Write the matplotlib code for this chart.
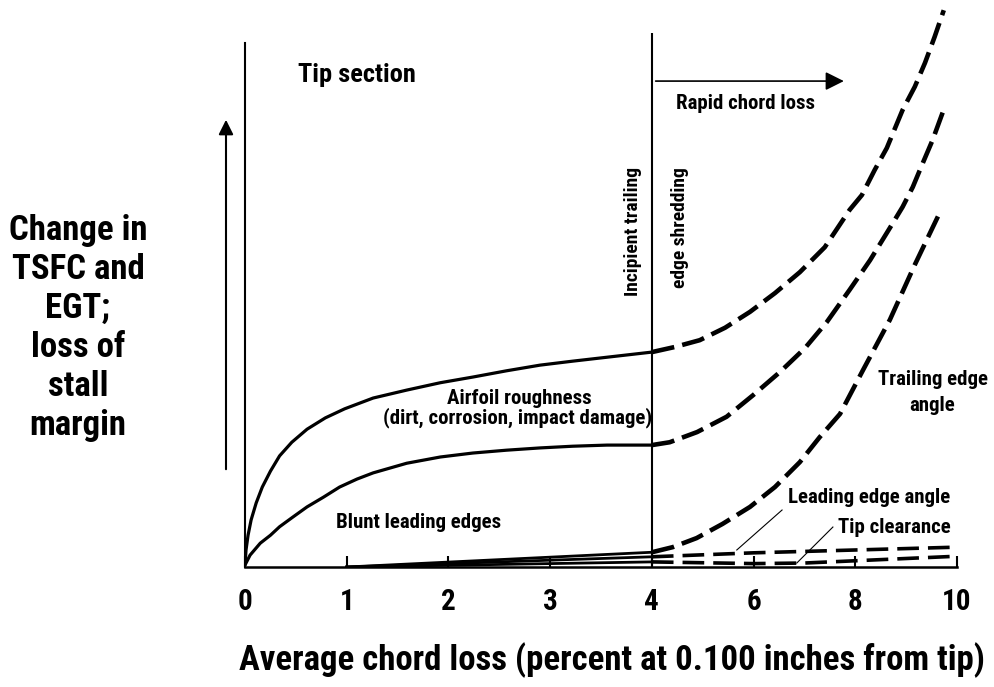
import numpy as np
import matplotlib
matplotlib.use('Agg')
import matplotlib.pyplot as plt

FONT = ['Roboto Condensed', 'Archivo Narrow', 'DejaVu Sans']
plt.rcParams['font.family'] = FONT
plt.rcParams['font.weight'] = 'bold'

# curves (x = average chord loss %, y = relative change)
rough_x = [0, 0.01, 0.03, 0.06, 0.11, 0.17, 0.25, 0.34, 0.46, 0.61, 0.79, 0.98,
           1.26, 1.59, 1.92, 2.24, 2.57, 2.90, 3.22, 3.56, 4.0]
rough_y = [0.35, 3.0, 5.6, 8.3, 11.3, 14.1, 16.9, 19.6, 22.0, 24.3, 26.3, 27.9,
           29.8, 31.2, 32.5, 33.5, 34.6, 35.6, 36.3, 37.0, 37.9]

blunt_x = [0, 0.05, 0.15, 0.25, 0.34, 0.47, 0.61, 0.77, 0.93, 1.10, 1.26,
           1.59, 1.92, 2.24, 2.57, 2.90, 3.22, 3.56, 4.0]
blunt_y = [0.35, 2.1, 4.2, 5.6, 7.1, 8.8, 10.6, 12.3, 14.1, 15.5, 16.6,
           18.3, 19.4, 20.1, 20.6, 21.0, 21.3, 21.5, 21.5]

rough_ext_x = [4, 4.45, 4.94, 5.44, 5.93, 6.42, 6.91, 7.40, 7.89, 8.13, 8.38,
               8.62, 8.93, 9.17, 9.37, 9.56, 9.74]
rough_ext_y = [37.9, 38.8, 40.0, 42.2, 45.0, 48.3, 52.0, 56.4, 63.0, 65.6, 70.0,
               73.9, 80.6, 84.7, 88.9, 93.5, 98.2]

blunt_ext_x = [4, 4.35, 4.89, 5.47, 5.99, 6.52, 7.01, 7.44, 7.89, 8.29, 8.68,
               8.93, 9.13, 9.33, 9.52, 9.72]
blunt_ext_y = [21.5, 22.0, 23.8, 26.5, 30.3, 34.4, 38.6, 43.2, 48.9, 54.1, 59.8,
               63.5, 67.0, 71.3, 75.3, 80.2]

te_x = [1, 4.0, 4.41, 4.88, 5.39, 5.93, 6.42, 6.91, 7.30, 7.70, 8.15, 8.68, 9.17, 9.64]
te_y = [0, 2.6, 3.5, 5.1, 7.6, 10.6, 14.1, 18.5, 22.9, 27.0, 34.7, 43.6, 53.3, 62.1]

le_x = [1, 4, 6, 8, 10]
le_y = [0, 1.8, 2.5, 3.0, 3.5]

tip_x = [1, 4, 6, 7, 8, 9, 10]
tip_y = [0, 0.9, 0.6, 0.7, 1.1, 1.5, 1.9]

xticks = [0, 1, 2, 3, 4, 6, 8, 10]


def fwd(x):
    x = np.asarray(x, dtype=float)
    return np.where(x <= 4, x, 4 + (x - 4) / 2)


def inv(p):
    p = np.asarray(p, dtype=float)
    return np.where(p <= 4, p, 4 + (p - 4) * 2)


def split(xs, ys):
    # part up to 4 is drawn solid, beyond 4 dashed
    xs, ys = np.array(xs), np.array(ys)
    return xs[xs <= 4], ys[xs <= 4], xs[xs >= 4], ys[xs >= 4]


fig = plt.figure(figsize=(9.94, 6.87), dpi=100)
ax = fig.add_axes([245 / 994, 120 / 687, 712 / 994, 567 / 687])
ax.set_xscale('function', functions=(fwd, inv))
ax.set_xlim(0, 10)
ax.set_ylim(0, 100)

solid = dict(color='black', lw=2.3, solid_capstyle='round', solid_joinstyle='round')
dash = dict(color='black', lw=3.3, ls=(0, (5, 1.8)))
thin_dash = dict(color='black', lw=2.6, ls=(0, (6, 2.5)))

ax.plot(rough_x, rough_y, **solid)
ax.plot(blunt_x, blunt_y, **solid)
ax.plot(rough_ext_x, rough_ext_y, **dash)
ax.plot(blunt_ext_x, blunt_ext_y, **dash)

for xs, ys, st in [(te_x, te_y, dash), (le_x, le_y, thin_dash), (tip_x, tip_y, thin_dash)]:
    x1, y1, x2, y2 = split(xs, ys)
    ax.plot(x1, y1, color='black', lw=2.0)
    ax.plot(x2, y2, **st)

# axes
for s in ['top', 'right']:
    ax.spines[s].set_visible(False)
ax.spines['left'].set_bounds(0, 92.4)
ax.spines['left'].set_linewidth(1.5)
ax.spines['bottom'].set_bounds(0, 10)
ax.spines['bottom'].set_linewidth(1.8)
ax.vlines(4, 0, 94.2, color='black', lw=1.5)

ax.set_xticks(xticks)
ax.set_xticklabels([str(t) for t in xticks])
ax.tick_params(axis='x', direction='in', length=8, width=1.5, pad=15, labelsize=21)
ax.set_yticks([])

# arrows
ax.annotate('', xy=(7.83, 85.7), xytext=(4.02, 85.7),
            arrowprops=dict(arrowstyle='-|>', mutation_scale=28, lw=1.2, color='black'))
ax.annotate('', xy=(226 / 994, 1 - 117 / 687), xytext=(226 / 994, 1 - 472 / 687),
            xycoords='figure fraction', textcoords='figure fraction',
            arrowprops=dict(arrowstyle='-|>', mutation_scale=22, lw=1.5, color='black'))

# labels in the plot
ax.text(1.10, 86.8, 'Tip section', ha='center', va='center', fontsize=19)
ax.text(5.85, 81.8, 'Rapid chord loss', ha='center', va='center', fontsize=15)
ax.text(3.81, 70.5, 'Incipient trailing', rotation=90, ha='center', va='top', fontsize=14)
ax.text(4.55, 70.5, 'edge shredding', rotation=90, ha='center', va='top', fontsize=14)
ax.text(2.70, 29.8, 'Airfoil roughness', ha='center', va='center', fontsize=15)
ax.text(2.68, 26.3, '(dirt, corrosion, impact damage)', ha='center', va='center', fontsize=15)
ax.text(1.71, 7.8, 'Blunt leading edges', ha='center', va='center', fontsize=15)
ax.text(9.52, 30.8, 'Trailing edge\nangle', ha='center', va='center', fontsize=15, linespacing=1.5)
ax.text(6.67, 12.3, 'Leading edge angle', ha='left', va='center', fontsize=15)
ax.text(7.66, 7.05, 'Tip clearance', ha='left', va='center', fontsize=15)
ax.plot([6.56, 5.67], [10.05, 3.0], color='black', lw=0.8)
ax.plot([7.56, 6.85], [7.05, 0.7], color='black', lw=0.8)

fig.text(78 / 994, 1 - 328 / 687, 'Change in\nTSFC and\nEGT;\nloss of\nstall\nmargin',
         ha='center', va='center', fontsize=25, linespacing=1.23)
fig.text(612 / 994, 1 - 660 / 687, 'Average chord loss (percent at 0.100 inches from tip)',
         ha='center', va='center', fontsize=25)

fig.savefig('out.png', dpi=100)
